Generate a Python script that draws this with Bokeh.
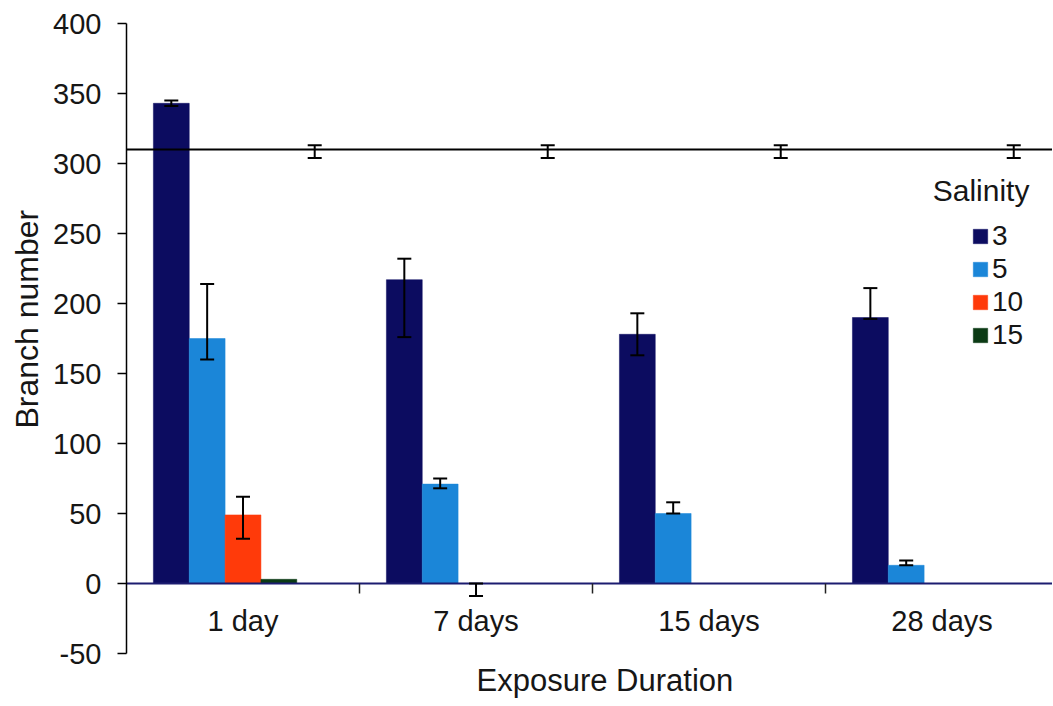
import numpy as np
from bokeh.plotting import figure
from bokeh.models import (Range1d, FixedTicker, LinearAxis, Span, Whisker,
                          ColumnDataSource, Legend, LegendItem, Label, TeeHead, Title)
from bokeh.embed import file_html
from bokeh.resources import INLINE

# ---------------- data ----------------
durations = ["1 day", "7 days", "15 days", "28 days"]
salinities = ["3", "5", "10", "15"]

s3 = [343, 217, 178, 190]
s3_lo = [341, 176, 163, 189]
s3_hi = [345, 232, 193, 211]

s5 = [175, 71, 50, 13]
s5_lo = [160, 68, 50, 13]
s5_hi = [214, 75, 58, 16.5]

s10 = [49, 0, 0, 0]
s10_lo = [32, -9, 0, 0]
s10_hi = [62, 0, 0, 0]

s15 = [3, 0, 0, 0]

control_mean = 310
control_lo = [304, 304, 304, 304]
control_hi = [313, 313, 313, 313]

y_ticks = [-50, 0, 50, 100, 150, 200, 250, 300, 350, 400]
y_tick_labels = ["-50", "0", "50", "100", "150", "200", "250", "300", "350", "400"]

colors = ["#0c0c60", "#1b86d8", "#ff3a0a", "#0b3a14"]
FONT = "Liberation Sans"
TXT = "#161616"

# ---------------- layout helpers ----------------
n_slots = 5          # 4 salinities + control
gap = 1.5            # gap width in bar widths
slot_w = 1.0 / (n_slots + gap)
ng = len(durations)


def xpos(k):
    return [i + slot_w * (gap / 2 + k + 0.5) for i in range(ng)]


p = figure(width=1052, height=704,
           x_range=Range1d(0, 3.974), y_range=Range1d(-50, 400),
           output_backend="svg", toolbar_location=None,
           x_axis_location=None, y_axis_location=None,
           min_border_left=126, min_border_right=0,
           min_border_top=23, min_border_bottom=50)
p.outline_line_color = None
p.xgrid.visible = False
p.ygrid.visible = False
p.background_fill_color = "white"
p.border_fill_color = "white"

# ---------------- bars ----------------
series = [s3, s5, s10, s15]
renderers = []
for k, (vals, col) in enumerate(zip(series, colors)):
    src = ColumnDataSource(dict(x=xpos(k), top=vals))
    r = p.vbar(x="x", top="top", bottom=0, width=slot_w, source=src,
               fill_color=col, line_color=col, line_width=0.5)
    renderers.append(r)

# control line
p.add_layout(Span(location=control_mean, dimension="width",
                  line_color="black", line_width=2))

# ---------------- error bars ----------------
err_sets = [(0, s3_lo, s3_hi), (1, s5_lo, s5_hi), (2, s10_lo, s10_hi)]
ex, elo, ehi = [], [], []
for k, lo, hi in err_sets:
    for xv, a, b in zip(xpos(k), lo, hi):
        if b > a:
            ex.append(xv)
            elo.append(a)
            ehi.append(b)
ex += xpos(4)
elo += control_lo
ehi += control_hi
esrc = ColumnDataSource(dict(x=ex, lo=elo, hi=ehi))
wh = Whisker(source=esrc, base="x", lower="lo", upper="hi",
             line_color="black", line_width=2,
             upper_head=TeeHead(size=14, line_width=2, line_color="black"),
             lower_head=TeeHead(size=14, line_width=2, line_color="black"))
wh.level = "overlay"
p.add_layout(wh)

# ---------------- axes ----------------
yaxis = LinearAxis(ticker=FixedTicker(ticks=y_ticks),
                   major_label_overrides={t: s for t, s in zip(y_ticks, y_tick_labels)})
yaxis.minor_tick_line_color = None
yaxis.major_tick_in = 0
yaxis.major_tick_out = 9
yaxis.axis_line_width = 1.5
yaxis.axis_line_color = "black"
yaxis.major_tick_line_width = 1.5
yaxis.major_label_text_font = FONT
yaxis.major_label_text_font_size = "29px"
yaxis.major_label_text_color = TXT
yaxis.major_label_standoff = 16
p.add_layout(yaxis, "left")

# x axis line at y=0 with boundary ticks
tick_axis = LinearAxis(ticker=FixedTicker(ticks=list(range(1, ng))),
                       fixed_location=0)
tick_axis.minor_tick_line_color = None
tick_axis.major_tick_in = 0
tick_axis.major_tick_out = 10
tick_axis.major_tick_line_color = "#222222"
tick_axis.major_tick_line_width = 1.5
tick_axis.axis_line_color = "#1c1c70"
tick_axis.axis_line_width = 2
tick_axis.major_label_text_color = None
p.add_layout(tick_axis, "below")

# category labels at group centres
centers = [i + 0.5 for i in range(ng)]
cat_axis = LinearAxis(ticker=FixedTicker(ticks=centers), fixed_location=0,
                      major_label_overrides={c: d for c, d in zip(centers, durations)})
cat_axis.minor_tick_line_color = None
cat_axis.major_tick_in = 0
cat_axis.major_tick_out = 0
cat_axis.axis_line_color = None
cat_axis.major_label_standoff = 21
cat_axis.major_label_text_font = FONT
cat_axis.major_label_text_font_size = "29px"
cat_axis.major_label_text_color = TXT
p.add_layout(cat_axis, "below")

# axis titles as side titles (offset like the original)
p.add_layout(Title(text="Exposure Duration", align="left", offset=350,
                   standoff=14, text_font=FONT, text_font_size="31px",
                   text_font_style="normal", text_color=TXT), "below")
p.add_layout(Title(text="Branch number", align="left", offset=225,
                   standoff=12, text_font=FONT, text_font_size="32px",
                   text_font_style="normal", text_color=TXT), "left")

# ---------------- legend ----------------
items = [LegendItem(label=s, renderers=[r]) for s, r in zip(salinities, renderers)]
legend = Legend(items=items, location=(845, 302),
                glyph_width=18, glyph_height=18, label_standoff=3,
                label_text_font=FONT, label_text_font_size="28px",
                label_text_color=TXT, spacing=1, padding=0, margin=0,
                border_line_color=None, background_fill_alpha=0)
p.add_layout(legend)

p.add_layout(Label(x=3.46, y=281, text="Salinity", text_font=FONT,
                   text_font_size="30px", text_color=TXT,
                   text_baseline="middle", text_align="left"))

open("out.html", "w").write(file_html(p, INLINE))
